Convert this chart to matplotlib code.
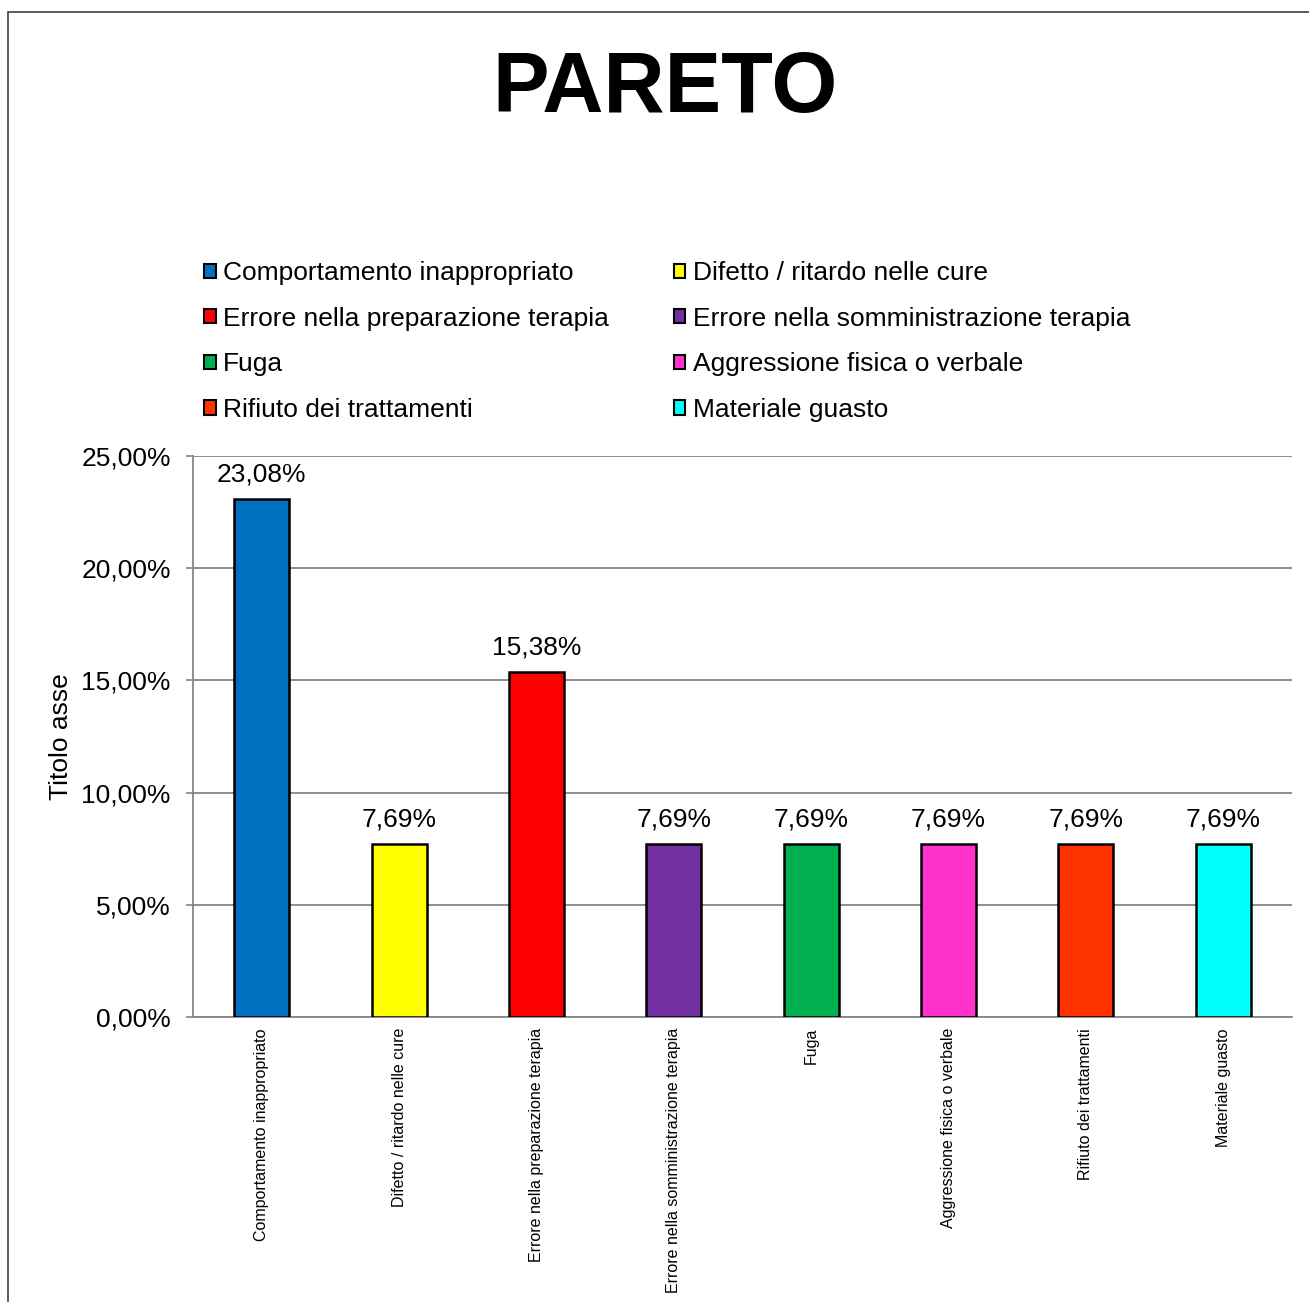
import matplotlib.pyplot as plt
from matplotlib.patches import Patch, Rectangle
from matplotlib.ticker import FuncFormatter, MultipleLocator

plt.rcParams['font.family'] = ['Liberation Sans', 'DejaVu Sans']

# data
categories = ['Comportamento inappropriato', 'Difetto / ritardo nelle cure',
              'Errore nella preparazione terapia', 'Errore nella somministrazione terapia',
              'Fuga', 'Aggressione fisica o verbale', 'Rifiuto dei trattamenti',
              'Materiale guasto']
values = [23.08, 7.69, 15.38, 7.69, 7.69, 7.69, 7.69, 7.69]
colors = ['#0070C0', '#FFFF00', '#FF0000', '#7030A0',
          '#00B050', '#FF33CC', '#FF3300', '#00FFFF']

W, H = 1309, 1302
fig = plt.figure(figsize=(W / 100, H / 100), dpi=100)
ax = fig.add_axes([193 / W, 1 - 1017 / H, (1292 - 193) / W, (1017 - 456) / H])

# outer chart border (only top/left edges visible)
fig.patches.append(Rectangle((8 / W, -0.5), 1.5, 0.5 + 1 - 12 / H,
                             transform=fig.transFigure, fill=False,
                             edgecolor='#404040', linewidth=1.2))

x = range(len(categories))
bars = ax.bar(x, values, width=0.4, color=colors, edgecolor='black',
              linewidth=1.8, zorder=3)

for xi, v in zip(x, values):
    ax.annotate(f'{v:.2f}%'.replace('.', ','), (xi, v), xytext=(0, 9),
                textcoords='offset points', ha='center', va='bottom', fontsize=19)

ax.set_xlim(-0.5, len(categories) - 0.5)
ax.set_ylim(0, 25)
ax.yaxis.set_major_locator(MultipleLocator(5))
ax.yaxis.set_major_formatter(FuncFormatter(lambda v, p: f'{v:.2f}%'.replace('.', ',')))
ax.tick_params(axis='y', labelsize=19, length=5, width=1.2, color='#868686', pad=11)
ax.set_xticks(list(x))
ax.set_xticklabels(categories, rotation=90, fontsize=11.5, va='top', ha='center')
ax.tick_params(axis='x', length=0, pad=8)

ax.grid(axis='y', color='#868686', linewidth=1.3, zorder=0)
ax.set_axisbelow(True)
for s in ['top', 'right']:
    ax.spines[s].set_visible(False)
for s in ['left', 'bottom']:
    ax.spines[s].set_color('#868686')
    ax.spines[s].set_linewidth(1.3)

ax.set_ylabel('Titolo asse', fontsize=19, labelpad=6)

fig.text(665 / W, 1 - 90 / H, 'PARETO', fontsize=61, fontweight='bold',
         ha='center', va='center')

# legend, row-major order in two columns
handles = [Patch(facecolor=c, edgecolor='black', linewidth=1.5) for c in colors]
order = [0, 2, 4, 6, 1, 3, 5, 7]
fig.legend([handles[i] for i in order], [categories[i] for i in order],
           ncol=2, loc='upper left', bbox_to_anchor=(204 / W, 1 - 261 / H),
           frameon=False, fontsize=19, handlelength=0.45, handleheight=0.45,
           handletextpad=0.27, columnspacing=2.45, labelspacing=0.82, borderpad=0,
           borderaxespad=0)

fig.savefig('out.png', dpi=100)
